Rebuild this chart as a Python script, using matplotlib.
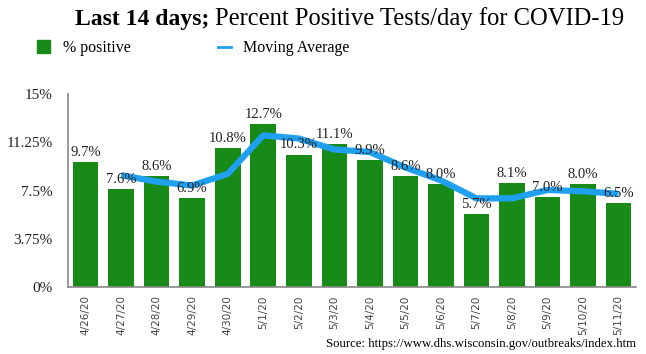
import matplotlib.pyplot as plt
import numpy as np

dates = ["4/26/20", "4/27/20", "4/28/20", "4/29/20", "4/30/20", "5/1/20", "5/2/20", "5/3/20",
         "5/4/20", "5/5/20", "5/6/20", "5/7/20", "5/8/20", "5/9/20", "5/10/20", "5/11/20"]
pct_positive = [9.7, 7.6, 8.6, 6.9, 10.8, 12.7, 10.3, 11.1, 9.9, 8.6, 8.0, 5.7, 8.1, 7.0, 8.0, 6.5]
# moving average starts on the second day
moving_avg = [np.nan, 8.7, 8.2, 7.9, 8.8, 11.8, 11.55, 10.7, 10.5, 9.3, 8.3, 6.9, 6.9, 7.55, 7.45, 7.25]
y_ticks = [0, 3.75, 7.5, 11.25, 15]
y_tick_labels = ["0%", "3.75%", "7.5%", "11.25%", "15%"]

serif = "Liberation Serif"
green = "#178a17"
blue = "#1fa0f0"

fig = plt.figure(figsize=(6.46, 3.54), dpi=100)
ax = fig.add_axes([0.105, 0.189, 0.88, 0.545])

x = np.arange(len(dates))
ax.bar(x, pct_positive, width=0.72, color=green, zorder=2)
ax.plot(x, moving_avg, color=blue, linewidth=4.5, solid_capstyle="butt", zorder=3)

# value labels above each bar
for xi, v in zip(x, pct_positive):
    ax.text(xi, v + 0.25, f"{v:.1f}%", ha="center", va="bottom",
            fontsize=10.5, family=serif, color="#222222", zorder=4)

ax.set_xlim(-0.5, len(dates) - 0.5)
ax.set_ylim(0, 15)
ax.set_yticks(y_ticks)
ax.set_yticklabels(y_tick_labels, family=serif, fontsize=11, color="#222222")
ax.set_xticks(x)
ax.set_xticklabels(dates, rotation=90, fontsize=7.5, family="DejaVu Sans", color="#444444")
ax.tick_params(axis="x", length=0, pad=6)
ax.tick_params(axis="y", length=0, pad=11)

for side in ["top", "right"]:
    ax.spines[side].set_visible(False)
ax.spines["left"].set_color("#888888")
ax.spines["bottom"].set_color("#888888")
ax.spines["left"].set_linewidth(1.2)
ax.spines["bottom"].set_linewidth(1.2)

# title: bold first part, regular rest placed right after it
t1 = fig.text(0.116, 0.93, "Last 14 days;", family=serif, fontsize=17, fontweight="bold",
              ha="left", va="baseline")
fig.canvas.draw()
bb = t1.get_window_extent().transformed(fig.transFigure.inverted())
fig.text(bb.x1 + 0.009, 0.93, "Percent Positive Tests/day for COVID-19", family=serif,
         fontsize=17.7, ha="left", va="baseline")

# legend drawn manually
fig.patches.append(plt.Rectangle((0.058, 0.85), 0.02, 0.036, transform=fig.transFigure,
                                 color=green, figure=fig))
fig.text(0.098, 0.853, "% positive", family=serif, fontsize=11.5, ha="left", va="baseline")
fig.lines.append(plt.Line2D([0.337, 0.357], [0.868, 0.868], transform=fig.transFigure,
                            color=blue, linewidth=2, figure=fig))
fig.text(0.376, 0.853, "Moving Average", family=serif, fontsize=11.5, ha="left", va="baseline")

fig.text(0.985, 0.02, "Source: https://www.dhs.wisconsin.gov/outbreaks/index.htm",
         family=serif, fontsize=9.2, ha="right", va="baseline")

fig.savefig("out.png", dpi=100)
